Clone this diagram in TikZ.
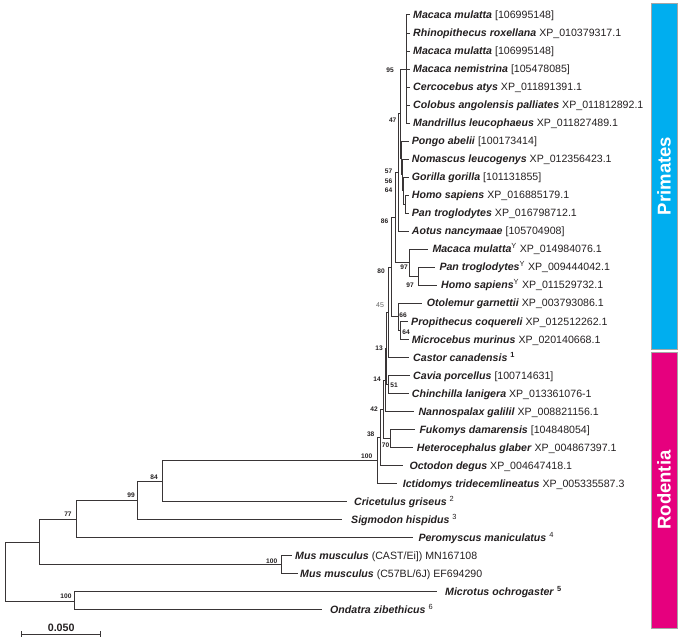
\documentclass[tikz,border=0pt]{standalone}
\usepackage{fontspec}
\setmainfont{Liberation Sans}
\definecolor{primc}{RGB}{0,174,239}
\definecolor{rodc}{RGB}{230,0,126}
\definecolor{inkc}{RGB}{35,31,32}
\newcommand\taxon[1]{\textbf{\textit{#1}}}
\newcommand\supm[1]{\textsuperscript{#1}}
\begin{document}
\begin{tikzpicture}[x=1pt,y=-1pt,
  br/.style={draw=inkc!90, line width=1pt},
  leaf/.style={anchor=west, inner sep=0pt, text height=7pt, text depth=0pt, text=inkc, font=\fontsize{10.6}{12}\selectfont},
  bs/.style={inner sep=0pt, text=inkc, font=\fontsize{6.6}{7}\selectfont\bfseries},
  bsg/.style={inner sep=0pt, text=black!60, font=\fontsize{7}{8}\selectfont},
  barbox/.style={draw=black!35, line width=0.4pt, minimum width=26.6pt, inner sep=0pt},
  bartxt/.style={rotate=90, text=white, inner sep=0pt, font=\fontsize{18.5}{20}\selectfont\bfseries}]
\useasboundingbox (0,0) rectangle (680,644);

% ---------- leaf tips ----------
\coordinate (t1) at (410,15);
\coordinate (t2) at (410,33.03);
\coordinate (t3) at (410,51.06);
\coordinate (t4) at (410,69.09);
\coordinate (t5) at (410,87.12);
\coordinate (t6) at (410,105.15);
\coordinate (t7) at (410,123.18);
\coordinate (t8) at (409,141.21);
\coordinate (t9) at (409,159.24);
\coordinate (t10) at (409,177.27);
\coordinate (t11) at (409,195.3);
\coordinate (t12) at (409,213.33);
\coordinate (t13) at (409,231.36);
\coordinate (t14) at (428,249.39);
\coordinate (t15) at (435,267.42);
\coordinate (t16) at (437,285.45);
\coordinate (t17) at (422,303.48);
\coordinate (t18) at (408,321.51);
\coordinate (t19) at (408.5,339.54);
\coordinate (t20) at (409,357.57);
\coordinate (t21) at (409.5,375.6);
\coordinate (t22) at (408.5,393.63);
\coordinate (t23) at (414,411.66);
\coordinate (t24) at (415,429.69);
\coordinate (t25) at (413.3,447.72);
\coordinate (t26) at (403.3,465.75);
\coordinate (t27) at (396.7,483.78);
\coordinate (t28) at (347,501.81);
\coordinate (t29) at (342,519.84);
\coordinate (t30) at (413.3,537.87);
\coordinate (t31) at (291.7,555.9);
\coordinate (t32) at (298,573.93);
\coordinate (t33) at (437.3,591.96);
\coordinate (t34) at (321.7,609.99);

% ---------- internal nodes ----------
\coordinate (nF) at (405,204.3);
\coordinate (nE) at (403,190.8);
\coordinate (nD) at (402,175.0);
\coordinate (nC) at (401,158.1);
\coordinate (nA) at (406,69.09);
\coordinate (n47) at (400,113.6);
\coordinate (nB) at (398.5,172.5);
\coordinate (n97i) at (418.3,276.4);
\coordinate (n97o) at (409.3,262.9);
\coordinate (n86) at (395,217.7);
\coordinate (n64) at (400.5,330.5);
\coordinate (n66) at (398,317.0);
\coordinate (n80) at (391,267.4);
\coordinate (n45) at (388.5,312.5);
\coordinate (n51) at (388,384.6);
\coordinate (n13) at (386.5,348.6);
\coordinate (n14) at (385,380.1);
\coordinate (n70) at (390.7,438.7);
\coordinate (n42) at (383,409.4);
\coordinate (n38) at (380.3,437.6);
\coordinate (r100) at (377.7,460.7);
\coordinate (n84) at (162.3,481.3);
\coordinate (n99) at (137.7,500.6);
\coordinate (n77) at (76.3,519.2);
\coordinate (nMus) at (281.7,564.9);
\coordinate (nAa) at (39.3,542.1);
\coordinate (nMO) at (74,601.0);
\coordinate (root) at (5,571.5);

% ---------- branches ----------
\foreach \c in {t1,t2,t3,t4,t5,t6,t7} \draw[br] (nA) |- (\c);
\draw[br] (nF) |- (t11); \draw[br] (nF) |- (t12);
\draw[br] (nE) |- (t10); \draw[br] (nE) |- (nF);
\draw[br] (nD) |- (t9);  \draw[br] (nD) |- (nE);
\draw[br] (nC) |- (t8);  \draw[br] (nC) |- (nD);
\draw[br] (n47) |- (nA); \draw[br] (n47) |- (nC);
\draw[br] (nB) |- (n47); \draw[br] (nB) |- (t13);
\draw[br] (n97i) |- (t15); \draw[br] (n97i) |- (t16);
\draw[br] (n97o) |- (t14); \draw[br] (n97o) |- (n97i);
\draw[br] (n86) |- (nB); \draw[br] (n86) |- (n97o);
\draw[br] (n64) |- (t18); \draw[br] (n64) |- (t19);
\draw[br] (n66) |- (t17); \draw[br] (n66) |- (n64);
\draw[br] (n80) |- (n86); \draw[br] (n80) |- (n66);
\draw[br] (n45) |- (n80); \draw[br] (n45) |- (t20);
\draw[br] (n51) |- (t21); \draw[br] (n51) |- (t22);
\draw[br] (n13) |- (n45); \draw[br] (n13) |- (n51);
\draw[br] (n14) |- (n13); \draw[br] (n14) |- (t23);
\draw[br] (n70) |- (t24); \draw[br] (n70) |- (t25);
\draw[br] (n42) |- (n14); \draw[br] (n42) |- (n70);
\draw[br] (n38) |- (n42); \draw[br] (n38) |- (t26);
\draw[br] (r100) |- (n38); \draw[br] (r100) |- (t27);
\draw[br] (n84) |- (r100); \draw[br] (n84) |- (t28);
\draw[br] (n99) |- (n84); \draw[br] (n99) |- (t29);
\draw[br] (n77) |- (n99); \draw[br] (n77) |- (t30);
\draw[br] (nMus) |- (t31); \draw[br] (nMus) |- (t32);
\draw[br] (nAa) |- (n77); \draw[br] (nAa) |- (nMus);
\draw[br] (nMO) |- (t33); \draw[br] (nMO) |- (t34);
\draw[br] (root) |- (nAa); \draw[br] (root) |- (nMO);

% ---------- leaf labels ----------
\node[leaf] (l1) at (413,15) {\taxon{Macaca mulatta} [106995148]};
\node[leaf] (l2) at (413,33.03) {\taxon{Rhinopithecus roxellana} XP\_010379317.1};
\node[leaf] (l3) at (413,51.06) {\taxon{Macaca mulatta} [106995148]};
\node[leaf] (l4) at (413,69.09) {\taxon{Macaca nemistrina} [105478085]};
\node[leaf] (l5) at (413,87.12) {\taxon{Cercocebus atys} XP\_011891391.1};
\node[leaf] (l6) at (413,105.15) {\taxon{Colobus angolensis palliates} XP\_011812892.1};
\node[leaf] (l7) at (413,123.18) {\taxon{Mandrillus leucophaeus} XP\_011827489.1};
\node[leaf] (l8) at (411.7,141.21) {\taxon{Pongo abelii} [100173414]};
\node[leaf] (l9) at (411.7,159.24) {\taxon{Nomascus leucogenys} XP\_012356423.1};
\node[leaf] (l10) at (411.7,177.27) {\taxon{Gorilla gorilla} [101131855]};
\node[leaf] (l11) at (411.7,195.3) {\taxon{Homo sapiens} XP\_016885179.1};
\node[leaf] (l12) at (411.7,213.33) {\taxon{Pan troglodytes} XP\_016798712.1};
\node[leaf] (l13) at (411.7,231.36) {\taxon{Aotus nancymaae} [105704908]};
\node[leaf] (l14) at (432.3,249.39) {\taxon{Macaca mulatta}\supm{Y} XP\_014984076.1};
\node[leaf] (l15) at (439.3,267.42) {\taxon{Pan troglodytes}\supm{Y} XP\_009444042.1};
\node[leaf] (l16) at (441,285.45) {\taxon{Homo sapiens}\supm{Y} XP\_011529732.1};
\node[leaf] (l17) at (426.7,303.48) {\taxon{Otolemur garnettii} XP\_003793086.1};
\node[leaf] (l18) at (411,321.51) {\taxon{Propithecus coquereli} XP\_012512262.1};
\node[leaf] (l19) at (411.7,339.54) {\taxon{Microcebus murinus} XP\_020140668.1};
\node[leaf] (l20) at (413,357.57) {\taxon{Castor canadensis} \supm{\textbf{1}}};
\node[leaf] (l21) at (413,375.6) {\taxon{Cavia porcellus} [100714631]};
\node[leaf] (l22) at (411.7,393.63) {\taxon{Chinchilla lanigera} XP\_013361076-1};
\node[leaf] (l23) at (418.3,411.66) {\taxon{Nannospalax galilil} XP\_008821156.1};
\node[leaf] (l24) at (419.3,429.69) {\taxon{Fukomys damarensis} [104848054]};
\node[leaf] (l25) at (416.7,447.72) {\taxon{Heterocephalus glaber} XP\_004867397.1};
\node[leaf] (l26) at (409.3,465.75) {\taxon{Octodon degus} XP\_004647418.1};
\node[leaf] (l27) at (402.7,483.78) {\taxon{Ictidomys tridecemlineatus} XP\_005335587.3};
\node[leaf] (l28) at (354,501.81) {\taxon{Cricetulus griseus} \supm{2}};
\node[leaf] (l29) at (351,519.84) {\taxon{Sigmodon hispidus} \supm{3}};
\node[leaf] (l30) at (418.3,537.87) {\taxon{Peromyscus maniculatus} \supm{4}};
\node[leaf] (l31) at (295,555.9) {\taxon{Mus musculus} (CAST/Ei]) MN167108};
\node[leaf] (l32) at (300,573.93) {\taxon{Mus musculus} (C57BL/6J) EF694290};
\node[leaf] (l33) at (445,591.96) {\taxon{Microtus ochrogaster} \supm{\textbf{5}}};
\node[leaf] (l34) at (330,609.99) {\taxon{Ondatra zibethicus} \supm{6}};

% ---------- bootstrap values ----------
\node[bs] (b95) at (390,70.7) {95};
\node[bs] (b47) at (392.7,120.7) {47};
\node[bs] (b57) at (388.5,171.7) {57};
\node[bs] (b56) at (388.5,181.2) {56};
\node[bs] (b64a) at (388.5,190) {64};
\node[bs] (b86) at (384.5,221.7) {86};
\node[bs] (b80) at (381,271.7) {80};
\node[bs] (b97o) at (404,267.5) {97};
\node[bs] (b97i) at (410,285) {97};
\node[bsg] (b45) at (380,305) {45};
\node[bs] (b66) at (403,315) {66};
\node[bs] (b64b) at (406,332) {64};
\node[bs] (b13) at (379,348) {13};
\node[bs] (b14) at (377,379) {14};
\node[bs] (b51) at (394,385) {51};
\node[bs] (b42) at (374,409) {42};
\node[bs] (b38) at (370.7,434) {38};
\node[bs] (b70) at (385.5,445.7) {70};
\node[bs] (b100r) at (366.7,456) {100};
\node[bs] (b84) at (154,477) {84};
\node[bs] (b99) at (131,495) {99};
\node[bs] (b77) at (68,514) {77};
\node[bs] (b100m) at (271.7,561.7) {100};
\node[bs] (b100o) at (66,596.7) {100};

% ---------- scale bar ----------
\coordinate (sL) at (21.7,634);
\coordinate (sR) at (100.7,634);
\draw[br] (sL) -- (sR);
\draw[br] ([yshift=-2.8pt]sL) -- ([yshift=2.8pt]sL);
\draw[br] ([yshift=-2.8pt]sR) -- ([yshift=2.8pt]sR);
\node[inner sep=0pt, text=inkc, font=\fontsize{10.7}{12}\selectfont\bfseries, anchor=base] (slab) at (61.2,631) {0.050};

% ---------- clade bars ----------
\node[barbox, fill=primc, minimum height=346pt] (pbar) at (664,176) {};
\node[bartxt] (ptxt) at (pbar.center) {Primates};
\node[barbox, fill=rodc, minimum height=276pt] (rbar) at (664,490) {};
\node[bartxt] (rtxt) at (rbar.center) {Rodentia};
\end{tikzpicture}
\end{document}
